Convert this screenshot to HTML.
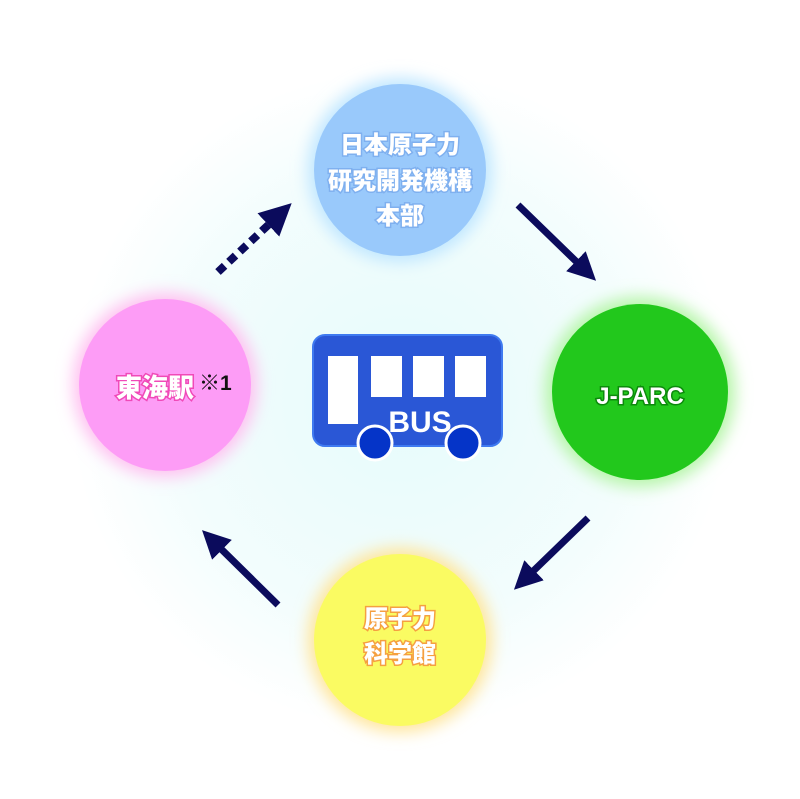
<!DOCTYPE html>
<html><head><meta charset="utf-8"><style>
html,body{margin:0;padding:0;width:800px;height:799px;overflow:hidden;background:#fff}
.t{font-family:"Liberation Sans","Noto Sans CJK JP",sans-serif;font-weight:900;fill:#fff}
</style></head><body>
<svg width="800" height="799" viewBox="0 0 800 799" xmlns="http://www.w3.org/2000/svg">
<defs>
<radialGradient id="bg" cx="400" cy="400" r="330" gradientUnits="userSpaceOnUse">
<stop offset="0" stop-color="#e6fbfb"/><stop offset="0.7" stop-color="#f3fdfd"/><stop offset="1" stop-color="#ffffff"/></radialGradient>
<filter id="blur" x="-50%" y="-50%" width="200%" height="200%"><feGaussianBlur stdDeviation="8"/></filter>
<marker id="ah" markerWidth="4" markerHeight="4" refX="2" refY="2" orient="auto" markerUnits="strokeWidth"><path d="M0,0 L4,2 L0,4 z" fill="#0b0b5c"/></marker>
</defs>
<rect width="800" height="799" fill="url(#bg)"/>
<circle cx="400" cy="170" r="92" fill="#bfe6ff" filter="url(#blur)"/>
<circle cx="400" cy="170" r="86" fill="#99c9fb"/>
<circle cx="165" cy="385" r="92" fill="#ffc0f0" filter="url(#blur)"/>
<circle cx="165" cy="385" r="86" fill="#fd9cf6"/>
<circle cx="640" cy="392" r="95" fill="#b6f5a8" filter="url(#blur)"/>
<circle cx="640" cy="392" r="88" fill="#22c81c"/>
<circle cx="400" cy="640" r="92" fill="#ffe59a" filter="url(#blur)"/>
<circle cx="400" cy="640" r="86" fill="#fafb62"/>
<g fill="none" stroke="#0b0b5c" stroke-width="7">
<line x1="218" y1="272" x2="280" y2="214" stroke-dasharray="9 6" stroke-width="8" marker-end="url(#ah)"/>
<line x1="518" y1="205" x2="586" y2="271" marker-end="url(#ah)"/>
<line x1="588" y1="518" x2="524" y2="580" marker-end="url(#ah)"/>
<line x1="278" y1="605" x2="212" y2="540" marker-end="url(#ah)"/>
</g>
<rect x="313" y="335" width="189" height="111" rx="12" fill="#2a57d6" stroke="#3f7af0" stroke-width="2"/>
<g fill="#fff"><rect x="328" y="356" width="30" height="68"/><rect x="371" y="356" width="31" height="41"/><rect x="413" y="356" width="31" height="41"/><rect x="455" y="356" width="31" height="41"/></g>
<text x="420" y="432" text-anchor="middle" font-family="Liberation Sans,sans-serif" font-weight="bold" font-size="30" fill="#fff">BUS</text>
<circle cx="375" cy="443" r="17" fill="#0534c8" stroke="#fff" stroke-width="3"/>
<circle cx="463" cy="443" r="17" fill="#0534c8" stroke="#fff" stroke-width="3"/>
<g class="t" font-size="24" text-anchor="middle">
<text x="400" y="153" stroke="#7fb0ef" stroke-width="3" paint-order="stroke">日本原子力</text>
<text x="400" y="189" stroke="#7fb0ef" stroke-width="3" paint-order="stroke">研究開発機構</text>
<text x="400" y="224" stroke="#7fb0ef" stroke-width="3" paint-order="stroke">本部</text>
<text x="155" y="397" font-size="26" stroke="#f04ab8" stroke-width="3" paint-order="stroke">東海駅</text>
<text x="640" y="404" stroke="#0c8a0c" stroke-width="3" paint-order="stroke">J-PARC</text>
<text x="400" y="627" stroke="#f5a040" stroke-width="3" paint-order="stroke">原子力</text>
<text x="400" y="662" stroke="#f5a040" stroke-width="3" paint-order="stroke">科学館</text>
</g>
<text x="199" y="390" font-family="Liberation Sans,'Noto Sans CJK JP',sans-serif" font-weight="bold" font-size="21" fill="#111">※1</text>
</svg>
</body></html>
